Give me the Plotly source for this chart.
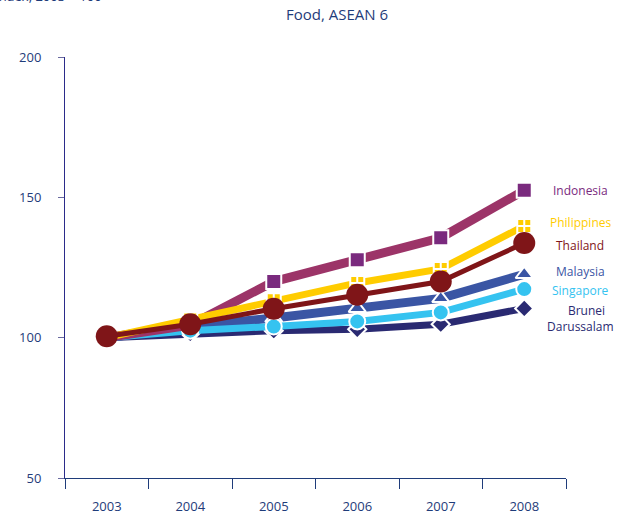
import plotly.graph_objects as go

years = ["2003", "2004", "2005", "2006", "2007", "2008"]
indonesia = [100, 104.5, 120.0, 127.8, 135.6, 152.5]
philippines = [100, 106.5, 113.3, 119.5, 124.5, 139.8]
thailand = [100.5, 104.8, 110.3, 115.3, 120.0, 133.7]
malaysia = [100, 104.0, 107.0, 110.5, 114.0, 122.6]
singapore = [100, 102.5, 104.0, 105.8, 109.0, 117.3]
brunei = [100, 101.5, 102.5, 103.0, 104.8, 110.4]

series = [
    # name, values, line colour, marker colour, symbol, marker size, line width, outline
    ("Brunei Darussalam", brunei, "#2A2A72", "#2A2A72", "diamond", 14, 7, 2),
    ("Malaysia", malaysia, "#3A55A4", "#3A55A4", "triangle-up", 15, 9, 2),
    ("Singapore", singapore, "#35C3F0", "#35C3F0", "circle", 16, 7, 2),
    ("Indonesia", indonesia, "#9C3468", "#7A2A7E", "square", 15, 9, 2),
    ("Philippines", philippines, "#FFCC00", "#FFCC00", "square-cross", 14, 7, 2),
    ("Thailand", thailand, "#7F1518", "#7F1518", "circle", 22, 5, 0),
]

fig = go.Figure()
for name, vals, lc, mc, sym, ms, lw, ow in series:
    fig.add_trace(go.Scatter(
        x=years, y=vals, mode="lines+markers", name=name,
        line=dict(color=lc, width=lw),
        marker=dict(symbol=sym, size=ms, color=mc,
                    line=dict(color="white", width=ow)),
        showlegend=False,
    ))

font_family = "Open Sans, Liberation Sans, Arial"
label_x = 1.028
labels = [
    ("Indonesia", indonesia[-1], 0, "#7A2A7E"),
    ("Philippines", philippines[-1], 1.3, "#FFCC00"),
    ("Thailand", thailand[-1], -0.8, "#7F1518"),
    ("Malaysia", malaysia[-1], 0.8, "#3A55A4"),
    ("Singapore", singapore[-1], -0.6, "#35C3F0"),
]
for text, yv, dy, col in labels:
    fig.add_annotation(x=label_x, xref="paper", xanchor="center",
                       y=yv + dy, yref="y", text=text, showarrow=False,
                       font=dict(size=12, color=col, family=font_family))
fig.add_annotation(x=label_x, xref="paper", xanchor="center",
                   y=brunei[-1] - 3.6, yref="y", yanchor="middle",
                   text="    Brunei<br>Darussalam", showarrow=False, align="center",
                   font=dict(size=12, color="#2A2A72", family=font_family))

fig.add_annotation(x=0.5, xref="paper", xanchor="center", xshift=21,
                   y=1, yref="paper", yanchor="middle", yshift=43,
                   text="Food, ASEAN 6", showarrow=False,
                   font=dict(size=15, color="#1F3C7A", family=font_family))

fig.add_annotation(x=0, xref="paper", xanchor="left", xshift=-72,
                   y=1, yref="paper", yanchor="middle", yshift=61,
                   text="Index, 2003 = 100", showarrow=False,
                   font=dict(size=13, color="#1F3C7A", family=font_family))

fig.update_layout(
    width=620, height=519,
    margin=dict(l=65, r=54, t=57, b=41, autoexpand=False),
    paper_bgcolor="white", plot_bgcolor="white",
    font=dict(family=font_family, color="#1F3C7A", size=13),
    xaxis=dict(
        type="category", range=[-0.5, 5.5], tickson="boundaries",
        ticks="outside", ticklen=10, tickcolor="#1F3C7A", tickwidth=1,
        showline=True, linecolor="#1F3C7A", linewidth=1, automargin=False,
        showgrid=False, zeroline=False, ticklabelstandoff=16,
        tickfont=dict(size=13, color="#1F3C7A"),
    ),
    yaxis=dict(
        range=[50, 200], tickvals=[50, 100, 150, 200],
        ticks="outside", ticklen=6, tickcolor="#6A6AA0", tickwidth=1,
        showline=True, linecolor="#2B2B8A", linewidth=1, automargin=False,
        showgrid=False, zeroline=False, ticklabelstandoff=14,
        tickfont=dict(size=13, color="#1F3C7A"),
    ),
)

fig.write_html("out.html", config={"displayModeBar": False},
               post_script="document.body.style.margin='0';document.body.style.overflow='hidden';")
